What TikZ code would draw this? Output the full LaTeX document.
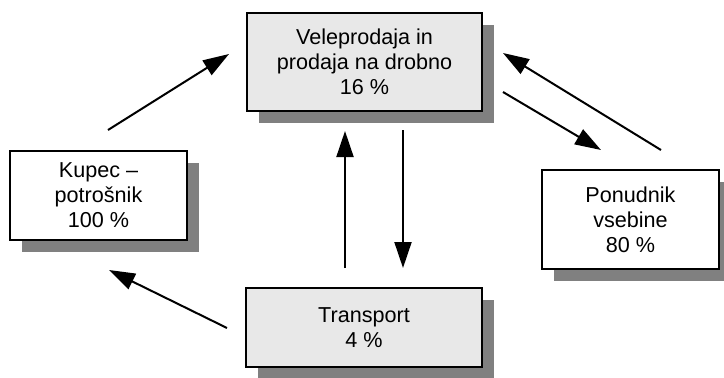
\documentclass[tikz,border=0pt]{standalone}
\usepackage{fontspec}
\setmainfont{Liberation Sans}
\usetikzlibrary{arrows.meta,shadows}
\definecolor{boxgray}{HTML}{E8E8E8}
\definecolor{shadowgray}{HTML}{808080}
\begin{document}
\begin{tikzpicture}[x=1pt,y=-1pt,
  box/.style={draw=black, line width=1.4pt, fill=white, inner sep=0pt,
    align=center, font=\fontsize{21.6}{25}\selectfont,
    drop shadow={shadow xshift=12pt, shadow yshift=-12pt,
      fill=shadowgray, opacity=1}},
  graybox/.style={box, fill=boxgray},
  flow/.style={line width=2pt, -{Triangle[length=26pt,width=17pt]}}]
\useasboundingbox (0,0) rectangle (724,378);

% the four parties of the chain
\node[graybox, minimum width=235pt, minimum height=98pt] (trade) at (364.5,62)
  {Veleprodaja in\\prodaja na drobno\\16 \%};
\node[box, minimum width=177pt, minimum height=89pt] (buyer) at (98.5,195.5)
  {Kupec –\\potrošnik\\100 \%};
\node[box, minimum width=177pt, minimum height=99pt] (provider) at (630.5,219.5)
  {Ponudnik\\vsebine\\80 \%};
\node[graybox, minimum width=236pt, minimum height=79pt] (transport) at (364,327.5)
  {Transport\\4 \%};

% end points of the flows between them
\coordinate (b2t-s) at (108,130);
\coordinate (b2t-e) at (229,54);
\coordinate (p2t-s) at (661,150);
\coordinate (p2t-e) at (503,53);
\coordinate (t2p-s) at (503,92);
\coordinate (t2p-e) at (601,150);
\coordinate (tr2t-s) at (345,268);
\coordinate (tr2t-e) at (345,131);
\coordinate (t2tr-s) at (403,130);
\coordinate (t2tr-e) at (403,268);
\coordinate (tr2b-s) at (227,328);
\coordinate (tr2b-e) at (109,270);

\draw[flow] (b2t-s) -- (b2t-e);
\draw[flow] (p2t-s) -- (p2t-e);
\draw[flow] (t2p-s) -- (t2p-e);
\draw[flow] (tr2t-s) -- (tr2t-e);
\draw[flow] (t2tr-s) -- (t2tr-e);
\draw[flow] (tr2b-s) -- (tr2b-e);
\end{tikzpicture}
\end{document}
